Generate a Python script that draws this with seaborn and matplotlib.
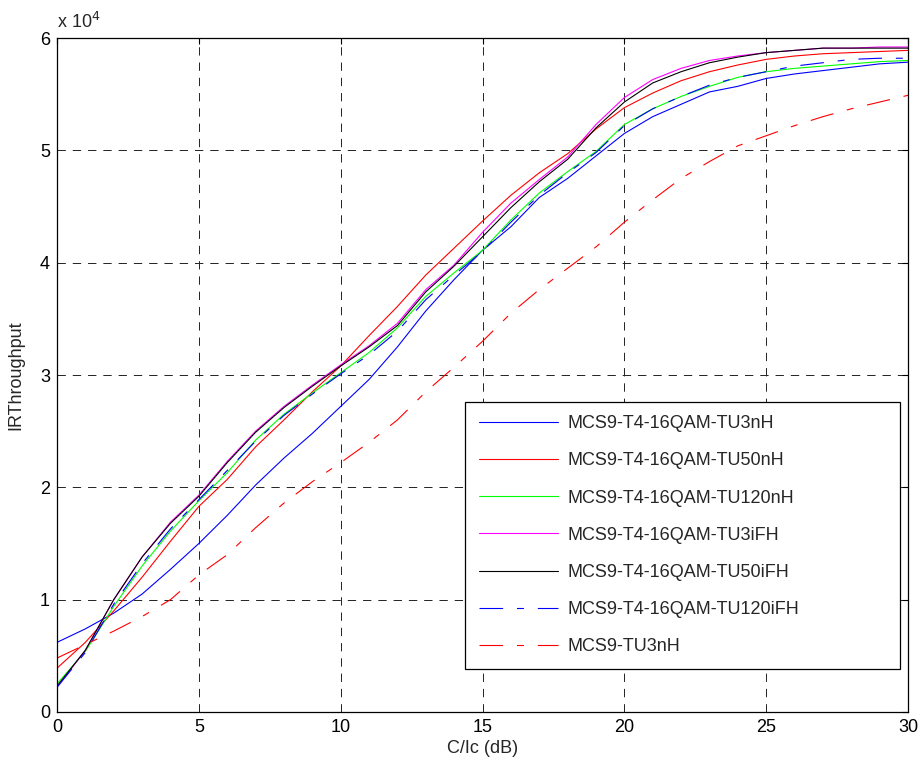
import numpy as np
import pandas as pd
import seaborn as sns
import matplotlib.pyplot as plt
from matplotlib.ticker import FuncFormatter

# C/Ic in dB, one point per dB
cir = list(range(0, 31))

tu3nh = [6200, 7400, 8800, 10500, 12700, 15000, 17500, 20200, 22600, 24800,
         27200, 29600, 32500, 35700, 38500, 41100, 43200, 45800, 47500, 49500,
         51500, 53000, 54100, 55200, 55700, 56400, 56800, 57100, 57400, 57700, 57850]
tu50nh = [3900, 6200, 9000, 12000, 15200, 18300, 20700, 23600, 26000, 28500,
          30800, 33500, 36100, 38900, 41300, 43700, 46000, 48000, 49700, 51900,
          53800, 55100, 56200, 57000, 57600, 58100, 58400, 58600, 58700, 58800, 58900]
tu120nh = [2500, 5400, 9400, 13000, 16100, 18800, 21300, 24200, 26500, 28400,
           30200, 32000, 34200, 37000, 39100, 41100, 43800, 46200, 48100, 49900,
           52300, 53700, 54800, 55700, 56500, 57000, 57300, 57500, 57700, 57900, 58000]
tu3ifh = [2200, 5500, 10000, 13800, 16900, 19300, 22300, 25000, 27200, 29100,
          30900, 32600, 34600, 37600, 39800, 42700, 45300, 47400, 49400, 52300,
          54700, 56300, 57300, 58000, 58400, 58700, 58900, 59100, 59100, 59200, 59200]
tu50ifh = [2300, 5500, 10000, 13800, 16800, 19200, 22200, 24900, 27100, 29000,
           30800, 32500, 34400, 37400, 39700, 42300, 44900, 47200, 49200, 52000,
           54300, 56000, 57000, 57800, 58300, 58700, 58900, 59100, 59100, 59100, 59100]
tu120ifh = [2200, 5300, 9600, 13200, 16300, 18900, 21500, 24100, 26400, 28300,
            30100, 31800, 33900, 36700, 38900, 41000, 43600, 46000, 48000, 49800,
            52200, 53700, 54800, 55800, 56500, 57000, 57500, 57800, 58100, 58200, 58200]
mcs9_tu3nh = [4800, 6000, 7200, 8500, 10000, 12200, 14000, 16400, 18600, 20500,
              22200, 24000, 26000, 28500, 30700, 33000, 35500, 37600, 39500, 41400,
              43600, 45600, 47500, 49000, 50400, 51300, 52200, 53000, 53700, 54300, 54900]

labels = ["MCS9-T4-16QAM-TU3nH", "MCS9-T4-16QAM-TU50nH", "MCS9-T4-16QAM-TU120nH",
          "MCS9-T4-16QAM-TU3iFH", "MCS9-T4-16QAM-TU50iFH", "MCS9-T4-16QAM-TU120iFH",
          "MCS9-TU3nH"]
series = [tu3nh, tu50nh, tu120nh, tu3ifh, tu50ifh, tu120ifh, mcs9_tu3nh]
colors = ["#0000ff", "#ff0000", "#00ff00", "#ff00ff", "#000000", "#0000ff", "#ff0000"]
dashdot = (0, (17, 10, 5, 10))
styles = ["-", "-", "-", "-", "-", dashdot, dashdot]

sns.set_style("white")
plt.rcParams['font.family'] = ['Liberation Sans', 'DejaVu Sans']
plt.rcParams['lines.scale_dashes'] = False

fig = plt.figure(figsize=(9.21, 7.65), dpi=100)
ax = fig.add_axes([0.0619, 0.0693, 0.924, 0.881])

for y, lab, c, ls in zip(series, labels, colors, styles):
    sns.lineplot(x=cir, y=y, ax=ax, color=c, label=lab, linestyle=ls, linewidth=0.8)

ax.set_xlim(0, 30)
ax.set_ylim(0, 60000)
ax.set_xticks([0, 5, 10, 15, 20, 25, 30])
ax.set_yticks([0, 10000, 20000, 30000, 40000, 50000, 60000])
ax.yaxis.set_major_formatter(FuncFormatter(lambda v, p: f"{v/1e4:g}"))
ax.text(0, 1.015, r"x 10$^{4}$", transform=ax.transAxes, fontsize=13, va='baseline')

ax.grid(True, color='#222222', linestyle=(0, (6, 5)), linewidth=0.7)
for s in ax.spines.values():
    s.set_color('black')
    s.set_linewidth(0.9)
ax.tick_params(direction='in', top=True, right=True, length=4, width=0.8,
               labelsize=13, colors='black', pad=5)

ax.set_xlabel("C/Ic (dB)", fontsize=13, labelpad=3)
ax.set_ylabel("IRThroughput", fontsize=13, labelpad=11)

leg = ax.legend(loc='lower left', bbox_to_anchor=(0.4794, 0.0638, 0.511, 0), mode='expand',
                fontsize=13, handlelength=4.4, labelspacing=1.12, borderpad=0.75,
                handletextpad=0.55, frameon=True, fancybox=False, framealpha=1,
                borderaxespad=0)
leg.get_frame().set_edgecolor('black')
leg.get_frame().set_linewidth(0.9)

fig.savefig("out.png", dpi=100)
